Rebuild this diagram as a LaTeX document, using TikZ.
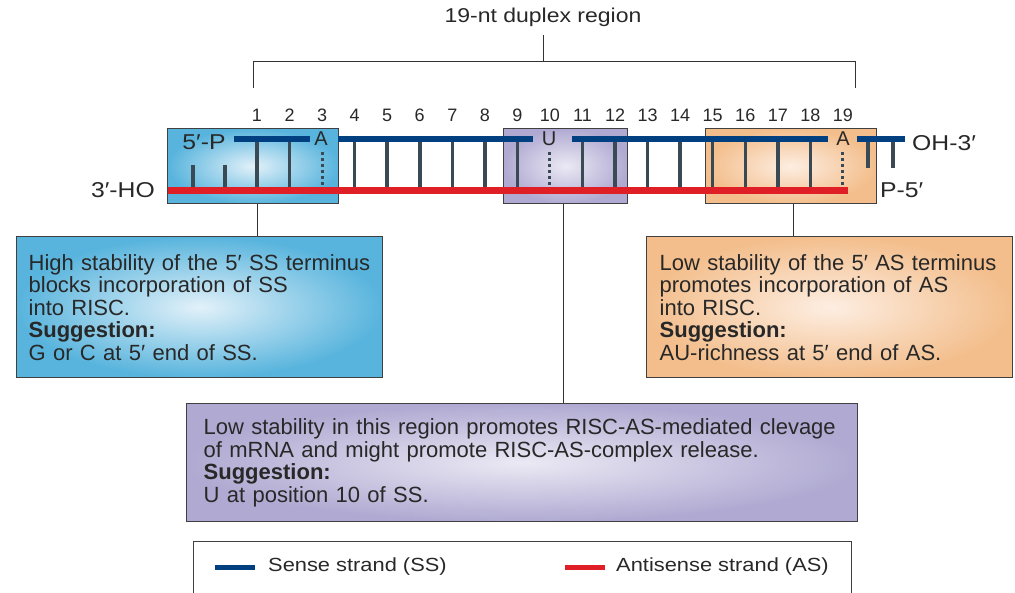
\documentclass[tikz,border=0pt]{standalone}
\usepackage{fontspec}
\setmainfont{Liberation Sans}
\newfontfamily\widefont[FakeStretch=1.15]{Liberation Sans}
\definecolor{ssblue}{RGB}{0,64,128}
\definecolor{asred}{RGB}{224,30,37}
\definecolor{rungc}{RGB}{58,74,85}
\definecolor{bouter}{RGB}{88,180,221}
\definecolor{binner}{RGB}{226,241,249}
\definecolor{oouter}{RGB}{243,190,140}
\definecolor{oinner}{RGB}{253,238,226}
\definecolor{pouter}{RGB}{176,170,210}
\definecolor{pinner}{RGB}{235,233,244}
\definecolor{txtc}{RGB}{40,40,40}
\begin{document}
\begin{tikzpicture}[x=1pt,y=-1pt,
  boxline/.style={draw=black!75,line width=1.3pt},
  smallbox/.style={boxline,anchor=north west,inner sep=0pt,minimum height=75pt},
  bigbox/.style={boxline,anchor=north west,inner ysep=0pt,align=left,text=txtc,
    font=\fontsize{22}{22.5}\selectfont},
  ss/.style={draw=ssblue,line width=6pt},
  as/.style={draw=asred,line width=7pt},
  rung/.style={draw=rungc,line width=3.5pt},
  dotrung/.style={draw=rungc,line width=3pt,dash pattern=on 3pt off 3pt},
  conn/.style={draw=black!80,line width=1pt},
  numlab/.style={text=txtc,font=\fontsize{18}{18}\selectfont,inner sep=0pt},
  lab/.style={text=txtc,font=\widefont\fontsize{21.5}{21.5}\selectfont,inner sep=0pt},
  titlelab/.style={text=txtc,font=\widefont\fontsize{20}{20}\selectfont,inner sep=0pt},
  leglab/.style={text=txtc,font=\widefont\fontsize{19}{19}\selectfont,inner sep=0pt},
  base/.style={text=txtc,font=\fontsize{20}{20}\selectfont,inner sep=1pt}
]
\useasboundingbox (0,0) rectangle (1015,593);

% title and bracket
\node[titlelab] (title) at (543,17) {19-nt duplex region};
\coordinate (bl) at (253,88);
\coordinate (br) at (855,88);
\coordinate (bm) at (543,62);
\draw[conn] (title.south |- 0,35) -- (bm);
\draw[conn] (bl) -- (bl |- bm) -- (br |- bm) -- (br);

% small region boxes
\node[smallbox,minimum width=171pt,shade,inner color=binner,outer color=bouter] (sb) at (167,128) {};
\node[smallbox,minimum width=124pt,shade,inner color=pinner,outer color=pouter] (sp) at (503,128) {};
\node[smallbox,minimum width=171pt,shade,inner color=oinner,outer color=oouter] (so) at (705,128) {};

% position numbers
\foreach \i in {1,...,19}{
  \node[numlab] (n\i) at ({257+(\i-1)*32.55},115) {\i};
}
% rungs
\foreach \i in {1,2,4,5,6,7,8,9,11,12,13,14,15,16,17,18}{
  \draw[rung] ({257+(\i-1)*32.55},139) -- ({257+(\i-1)*32.55},189);
}
\foreach \i in {3,10,19}{
  \draw[dotrung] ({257+(\i-1)*32.55},152) -- ({257+(\i-1)*32.55},188);
}
\draw[rung] (193,165) -- (193,189);
\draw[rung] (225,165) -- (225,189);
\draw[rung] (868,141) -- (868,168);
\draw[rung] (893,141) -- (893,168);

% strands
\draw[ss] (234,139) -- (310,139);
\draw[ss] (338,139) -- (533,139);
\draw[ss] (572,139) -- (828,139);
\draw[ss] (857,139) -- (905,139);
\draw[as] (168,191) -- (848,191);

% bases
\node[base] (bA3) at (321,139) {A};
\node[base] (bU10) at (549,139) {U};
\node[base] (bA19) at (843,139) {A};

% end labels
\node[lab] (p5) at (204,142) {5′-P};
\node[lab,anchor=west] (oh3) at (912,143) {OH-3′};
\node[lab,anchor=east] (ho3) at (155,190) {3′-HO};
\node[lab,anchor=west] (p5r) at (880,190) {P-5′};

% big boxes
\node[bigbox,minimum width=366pt,minimum height=141pt,text width=342pt,inner xsep=12pt,
  shade,inner color=binner,outer color=bouter] (bb) at (16,236)
  {High stability of the 5′ SS terminus\\blocks incorporation of SS\\into RISC.\\\textbf{Suggestion:}\\G or C at 5′ end of SS.};
\node[bigbox,minimum width=366pt,minimum height=141pt,text width=340pt,inner xsep=13pt,
  shade,inner color=oinner,outer color=oouter] (bo) at (646,236)
  {Low stability of the 5′ AS terminus\\promotes incorporation of AS\\into RISC.\\\textbf{Suggestion:}\\AU-richness at 5′ end of AS.};
\node[bigbox,minimum width=671pt,minimum height=118pt,text width=637pt,inner xsep=17pt,
  shade,inner color=pinner,outer color=pouter] (bp) at (186,403)
  {Low stability in this region promotes RISC-AS-mediated clevage\\of mRNA and might promote RISC-AS-complex release.\\\textbf{Suggestion:}\\U at position 10 of SS.};

% connectors
\coordinate (c1) at (257,0);
\coordinate (c2) at (563,0);
\coordinate (c3) at (793,0);
\draw[conn] (c1 |- sb.south) -- (c1 |- bb.north);
\draw[conn] (c2 |- sp.south) -- (c2 |- bp.north);
\draw[conn] (c3 |- so.south) -- (c3 |- bo.north);

% legend
\coordinate (lgl) at (193,593);
\coordinate (lgr) at (851,593);
\draw[boxline,line width=1pt] (lgl) -- (193,541) -- (851,541) -- (lgr);
\coordinate (s1a) at (215,567);
\coordinate (s1b) at (255,567);
\coordinate (s2a) at (565,567);
\coordinate (s2b) at (605,567);
\draw[ss,line width=5pt] (s1a) -- (s1b);
\draw[as,line width=5pt] (s2a) -- (s2b);
\node[leglab,anchor=west] (l1) at (268,567) {Sense strand (SS)};
\node[leglab,anchor=west] (l2) at (616,567) {Antisense strand (AS)};
\end{tikzpicture}
\end{document}
